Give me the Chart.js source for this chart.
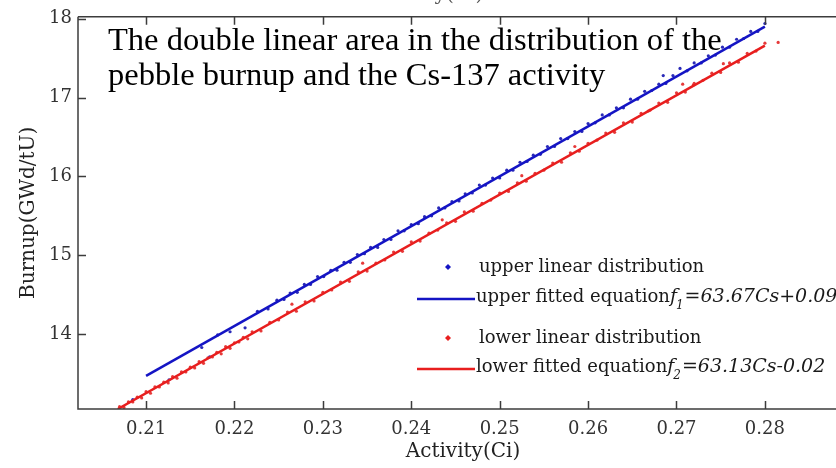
<!DOCTYPE html>
<html>
<head>
<meta charset="utf-8">
<script src="https://cdn.jsdelivr.net/npm/chart.js@4.4.1/dist/chart.umd.min.js"></script>
<style>
  html, body { margin: 0; padding: 0; background: #fff; overflow: hidden; }
  #wrap { width: 860px; height: 468px; }
</style>
</head>
<body>
<div id="wrap"><canvas id="chart" width="860" height="468"></canvas></div>
<script>
// tick values
const xTicks = [0.21, 0.22, 0.23, 0.24, 0.25, 0.26, 0.27, 0.28];
const yTicks = [14, 15, 16, 17, 18];

// upper linear distribution (blue dots)
const upperX = [0.2085, 0.2126, 0.2172, 0.2163, 0.2181, 0.2195, 0.2212, 0.2226, 0.2238, 0.2248, 0.2256,
  0.2263, 0.2271, 0.2279, 0.2286, 0.2294, 0.2301, 0.2309, 0.2316, 0.2324, 0.2331, 0.2339, 0.2347,
  0.2354, 0.2362, 0.2369, 0.2377, 0.2385, 0.2392, 0.2400, 0.2408, 0.2415, 0.2423, 0.2431, 0.2438,
  0.2446, 0.2454, 0.2461, 0.2469, 0.2477, 0.2484, 0.2492, 0.2500, 0.2508, 0.2515, 0.2523, 0.2531,
  0.2538, 0.2546, 0.2554, 0.2562, 0.2569, 0.2577, 0.2585, 0.2593, 0.2600, 0.2608, 0.2616, 0.2624,
  0.2632, 0.2640, 0.2648, 0.2656, 0.2664, 0.2672, 0.2680, 0.2685, 0.2688, 0.2696, 0.2704, 0.2712,
  0.2720, 0.2728, 0.2736, 0.2744, 0.2752, 0.2760, 0.2768, 0.2776, 0.2784, 0.2792, 0.2800];
const upperY = [13.17, 13.42, 13.71, 13.83, 13.99, 14.03, 14.08, 14.29, 14.32, 14.43, 14.44,
  14.52, 14.53, 14.63, 14.63, 14.73, 14.73, 14.81, 14.81, 14.91, 14.91, 15.01, 15.02,
  15.10, 15.10, 15.20, 15.20, 15.31, 15.31, 15.39, 15.40, 15.49, 15.50, 15.60, 15.60,
  15.68, 15.69, 15.78, 15.79, 15.89, 15.89, 15.98, 15.98, 16.08, 16.08, 16.18, 16.19,
  16.27, 16.28, 16.38, 16.38, 16.48, 16.48, 16.57, 16.57, 16.67, 16.68, 16.78, 16.78,
  16.87, 16.87, 16.98, 16.98, 17.08, 17.09, 17.17, 17.28, 17.18, 17.28, 17.37, 17.34,
  17.44, 17.44, 17.53, 17.54, 17.64, 17.64, 17.74, 17.75, 17.84, 17.84, 17.94];

// lower linear distribution (red dots)
const lowerX = [0.2070, 0.2075, 0.2080, 0.2085, 0.2090, 0.2095, 0.2100, 0.2105, 0.2110, 0.2115,
  0.2120, 0.2125, 0.2130, 0.2135, 0.2140, 0.2145, 0.2150, 0.2155, 0.2160, 0.2165, 0.2170, 0.2175,
  0.2180, 0.2185, 0.2190, 0.2195, 0.2200, 0.2205, 0.2210, 0.2215, 0.2220, 0.2230, 0.2240, 0.2250,
  0.2260, 0.2265, 0.2270, 0.2280, 0.2290, 0.2300, 0.2310, 0.2320, 0.2330, 0.2340, 0.2345, 0.2350,
  0.2360, 0.2370, 0.2380, 0.2390, 0.2400, 0.2410, 0.2420, 0.2430, 0.2435, 0.2440, 0.2450, 0.2460,
  0.2470, 0.2480, 0.2490, 0.2500, 0.2510, 0.2520, 0.2525, 0.2530, 0.2540, 0.2550, 0.2560, 0.2570,
  0.2580, 0.2585, 0.2590, 0.2600, 0.2610, 0.2620, 0.2630, 0.2640, 0.2650, 0.2660, 0.2668, 0.2670,
  0.2680, 0.2690, 0.2700, 0.2707, 0.2710, 0.2719, 0.2720, 0.2730, 0.2740, 0.2750, 0.2753, 0.2760,
  0.2770, 0.2780, 0.2790, 0.2800, 0.2815];
const lowerY = [13.08, 13.07, 13.14, 13.14, 13.20, 13.19, 13.27, 13.25, 13.33, 13.33,
  13.39, 13.38, 13.46, 13.44, 13.52, 13.52, 13.58, 13.57, 13.65, 13.63, 13.70, 13.71,
  13.77, 13.75, 13.84, 13.82, 13.89, 13.90, 13.96, 13.94, 14.03, 14.04, 14.15, 14.18,
  14.28, 14.38, 14.29, 14.41, 14.42, 14.53, 14.56, 14.66, 14.67, 14.79, 14.90, 14.80,
  14.90, 14.94, 15.04, 15.05, 15.17, 15.18, 15.28, 15.32, 15.45, 15.41, 15.43, 15.55,
  15.56, 15.66, 15.70, 15.79, 15.81, 15.92, 16.01, 15.94, 16.04, 16.08, 16.17, 16.18,
  16.30, 16.38, 16.32, 16.42, 16.46, 16.55, 16.56, 16.68, 16.69, 16.80, 16.83, 16.84,
  16.93, 16.94, 17.06, 17.17, 17.07, 17.16, 17.18, 17.22, 17.31, 17.32, 17.43, 17.44,
  17.45, 17.56, 17.59, 17.69, 17.70];

// fitted lines
const fitUpperX = [0.21, 0.28];
const fitUpperY = [13.47, 17.90];
const fitLowerX = [0.2068, 0.28];
const fitLowerY = [13.05, 17.66];

const BLUE = '#1414c4';
const RED = '#e81e1e';
const AXIS = '#3c3c3c';
const SERIF = '"DejaVu Serif", serif';

const pts = (xs, ys) => xs.map((x, i) => ({ x: x, y: ys[i] }));

const frame = {
  id: 'frame',
  beforeDatasetsDraw(chart) {
    const ctx = chart.ctx;
    ctx.save();
    ctx.fillStyle = '#000';
    ctx.font = '32.5px "Liberation Serif", serif';
    ctx.textAlign = 'left';
    ctx.textBaseline = 'alphabetic';
    ctx.fillText('The double linear area in the distribution of the', 108, 50);
    ctx.fillText('pebble burnup and the Cs-137 activity', 108, 85);
    ctx.restore();
  },
  afterDraw(chart) {
    const ctx = chart.ctx;
    const a = chart.chartArea;
    const xs = chart.scales.x, ys = chart.scales.y;
    ctx.save();
    ctx.strokeStyle = AXIS;
    ctx.lineWidth = 1.5;
    ctx.beginPath();
    ctx.moveTo(a.left, a.top); ctx.lineTo(a.right, a.top);
    ctx.moveTo(a.left, a.top); ctx.lineTo(a.left, a.bottom);
    ctx.lineTo(a.right, a.bottom);
    xTicks.forEach(v => {
      const px = Math.round(xs.getPixelForValue(v)) + 0.5;
      ctx.moveTo(px, a.bottom); ctx.lineTo(px, a.bottom - 8);
      ctx.moveTo(px, a.top); ctx.lineTo(px, a.top + 8);
    });
    yTicks.forEach(v => {
      const py = Math.round(ys.getPixelForValue(v)) + 0.5;
      ctx.moveTo(a.left, py); ctx.lineTo(a.left + 8, py);
    });
    ctx.stroke();

    // mirrored title cut off at the top edge
    ctx.fillStyle = '#555';
    ctx.font = '20px ' + SERIF;
    ctx.textAlign = 'center';
    ctx.textBaseline = 'alphabetic';
    ctx.fillText('Activity(Ci)', 426, 0);

    // legend
    ctx.textAlign = 'left';
    const rows = [
      { kind: 'dot', color: BLUE, y: 267, base: 272, text: 'upper linear distribution' },
      { kind: 'line', color: BLUE, y: 299, base: 302, text: 'upper fitted equation', sub: '1', eq: '=63.67Cs+0.09' },
      { kind: 'dot', color: RED, y: 338, base: 343, text: 'lower linear distribution' },
      { kind: 'line', color: RED, y: 369, base: 372, text: 'lower fitted equation', sub: '2', eq: '=63.13Cs-0.02' }
    ];
    rows.forEach(r => {
      if (r.kind === 'dot') {
        ctx.fillStyle = r.color;
        ctx.beginPath();
        ctx.moveTo(448, r.y - 3); ctx.lineTo(451, r.y); ctx.lineTo(448, r.y + 3); ctx.lineTo(445, r.y);
        ctx.closePath();
        ctx.fill();
      } else {
        ctx.strokeStyle = r.color;
        ctx.lineWidth = 2.5;
        ctx.beginPath();
        ctx.moveTo(417, r.y); ctx.lineTo(475, r.y);
        ctx.stroke();
      }
      ctx.fillStyle = '#1a1a1a';
      ctx.font = '18px ' + SERIF;
      let x = r.kind === 'dot' ? 479 : 476;
      ctx.fillText(r.text, x, r.base);
      if (r.eq) {
        x += ctx.measureText(r.text).width;
        ctx.font = 'italic 19px ' + SERIF;
        ctx.fillText('f', x, r.base);
        x += ctx.measureText('f').width;
        ctx.font = 'italic 12px ' + SERIF;
        ctx.fillText(r.sub, x - 1, r.base + 7);
        x += ctx.measureText(r.sub).width;
        ctx.font = 'italic 19px ' + SERIF;
        ctx.fillText(r.eq, x, r.base);
      }
    });
    ctx.restore();
  }
};

new Chart(document.getElementById('chart'), {
  type: 'scatter',
  data: {
    datasets: [
      { label: 'upper fitted equation', data: pts(fitUpperX, fitUpperY), showLine: true,
        borderColor: BLUE, borderWidth: 2.5, pointRadius: 0, order: 1 },
      { label: 'lower fitted equation', data: pts(fitLowerX, fitLowerY), showLine: true,
        borderColor: RED, borderWidth: 2.5, pointRadius: 0, order: 1 },
      { label: 'upper linear distribution', data: pts(upperX, upperY),
        backgroundColor: '#2a2ab8', borderWidth: 0, pointRadius: 1.6, order: 2 },
      { label: 'lower linear distribution', data: pts(lowerX, lowerY),
        backgroundColor: '#e63a3a', borderWidth: 0, pointRadius: 1.6, order: 2 }
    ]
  },
  options: {
    responsive: false,
    animation: false,
    layout: { padding: { top: 13, right: 12, left: 0, bottom: 0 } },
    plugins: { legend: { display: false }, tooltip: { enabled: false } },
    scales: {
      x: {
        type: 'linear', min: 0.2023, max: 0.2894,
        afterBuildTicks: s => { s.ticks = xTicks.map(v => ({ value: v })); },
        afterFit: s => { s.height = 59; },
        grid: { display: false, drawTicks: false },
        border: { display: false },
        ticks: { padding: 10, color: '#333', font: { family: SERIF, size: 18 },
          callback: v => v.toFixed(2) },
        title: { display: true, text: 'Activity(Ci)', color: '#222',
          font: { family: SERIF, size: 20 }, padding: { top: 0, bottom: 4 } }
      },
      y: {
        type: 'linear', min: 13.05, max: 18.025,
        afterBuildTicks: s => { s.ticks = yTicks.map(v => ({ value: v })); },
        afterFit: s => { s.width = 78; },
        grid: { display: false, drawTicks: false },
        border: { display: false },
        ticks: { padding: 6, color: '#333', font: { family: SERIF, size: 18 },
          callback: v => String(v) },
        title: { display: true, text: 'Burnup(GWd/tU)', color: '#222',
          font: { family: SERIF, size: 20 }, padding: { top: 17, bottom: 0 } }
      }
    }
  },
  plugins: [frame]
});
</script>
</body>
</html>
